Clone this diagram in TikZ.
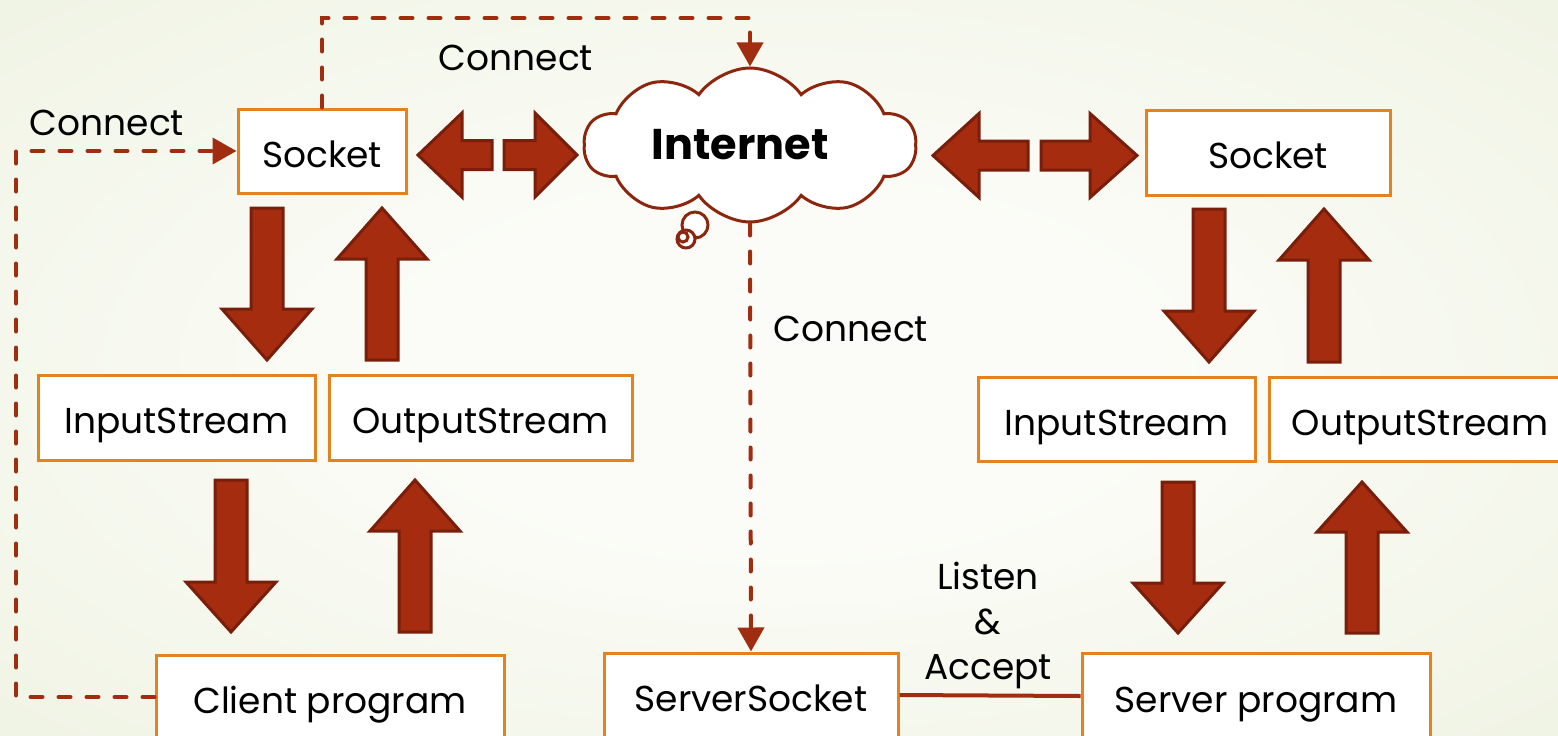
\documentclass[tikz,border=0pt]{standalone}
\usepackage{fontspec}
\setmainfont{Poppins}
\usetikzlibrary{shapes.symbols,arrows.meta}
\definecolor{boxorange}{RGB}{228,130,32}
\definecolor{arrfill}{RGB}{165,44,14}
\definecolor{arrline}{RGB}{120,30,10}
\definecolor{dashred}{RGB}{160,45,15}
\definecolor{cloudline}{RGB}{140,38,14}
\definecolor{bgin}{RGB}{251,252,247}
\definecolor{bgout}{RGB}{227,234,206}
\pgfdeclareradialshading{bgshade}{\pgfpoint{0bp}{0bp}}{color(0bp)=(bgin); color(12bp)=(bgin); color(62bp)=(bgout); color(72bp)=(bgout)}
\newcommand{\varr}[4]{\draw[blockarrow] (#1-16,#2) -- (#1-16,#3) -- (#1-45,#3) -- (#1,#4) -- (#1+45,#3) -- (#1+16,#3) -- (#1+16,#2) -- cycle;}
\newcommand{\harr}[4]{\draw[blockarrow] (#2,#1-14.5) -- (#3,#1-14.5) -- (#3,#1-42) -- (#4,#1) -- (#3,#1+42) -- (#3,#1+14.5) -- (#2,#1+14.5) -- cycle;}
\tikzset{
  box/.style={draw=boxorange, line width=3pt, fill=white, rectangle, inner sep=0pt,
              text height=36pt, text depth=4pt, font=\fontsize{36}{44}\selectfont},
  lbl/.style={font=\fontsize{36}{45}\selectfont, inner sep=0pt},
  dashconn/.style={draw=dashred, line width=4pt, dash pattern=on 12pt off 16pt, line cap=round},
  tipc/.style={-{Triangle[length=24pt,width=26pt]}},
  blockarrow/.style={fill=arrfill, draw=arrline, line width=3pt, line join=miter},
  bubble/.style={draw=cloudline, line width=3pt, fill=white}
}
\begin{document}
\begin{tikzpicture}[x=1pt,y=-1pt]
\useasboundingbox (0,0) rectangle (1558,736);
\clip (0,0) rectangle (1558,736);
\shade[shading=bgshade] (0,0) rectangle (1558,736);

% thought bubbles
\draw[bubble] (695,225) circle (13);
\draw[bubble] (686,239) circle (9);
\draw[bubble] (683,237) circle (5);
% cloud
\node[cloud, cloud puffs=10, cloud puff arc=110, cloud ignores aspect,
      minimum width=332pt, minimum height=154pt,
      draw=cloudline, fill=white, line width=3pt, inner sep=0pt,
      font=\fontsize{43}{52}\selectfont\bfseries] (cloud) at (750,145) {\hspace*{-20pt}Internet};

% boxes
\node[box, minimum width=168pt, minimum height=84pt] (sockL) at (322,151) {Socket};
\node[box, minimum width=277pt, minimum height=85pt] (inL) at (176.5,417.5) {InputStream};
\node[box, minimum width=303pt, minimum height=85pt] (outL) at (480.5,417.5) {OutputStream};
\node[box, minimum width=348pt, minimum height=84pt] (client) at (330,697) {Client program};
\node[box, minimum width=294pt, minimum height=84pt] (ssock) at (751,695) {ServerSocket};
\node[box, minimum width=348pt, minimum height=86pt] (sprog) at (1256,696) {Server program};
\node[box, minimum width=244pt, minimum height=85pt] (sockR) at (1268,152.5) {Socket};
\node[box, minimum width=277pt, minimum height=84pt] (inR) at (1116.5,419) {InputStream};
\node[box, minimum width=302pt, minimum height=84pt] (outR) at (1420,419) {OutputStream};

% block arrows
\harr{155}{492}{462}{418}
\harr{155}{504}{535}{577}
\harr{155.5}{1028}{979}{933}
\harr{155.5}{1041}{1090}{1137}
\varr{267}{208}{309}{360}
\varr{382}{360}{259}{208}
\varr{231}{480}{582}{632}
\varr{415}{632}{531}{480}
\varr{1209}{209}{311}{362}
\varr{1324}{362}{260}{209}
\varr{1178}{482}{583}{633}
\varr{1362}{633}{532}{482}

% connectors
\coordinate (topc) at (750,18);
\coordinate (leftc) at (16,697);
\draw[dashconn, tipc] (sockL.north) |- (topc) -- (cloud.north);
\draw[dashconn, tipc] (client.west) -- (leftc) |- (sockL.west);
\draw[dashconn, tipc] (cloud.south) -- (ssock.north);
\draw[draw=dashred, line width=4pt] (ssock.east) -- (sprog.west);

% labels
\node[lbl] (c1) at (516,58) {Connect};
\node[lbl] (c2) at (107,123) {Connect};
\node[lbl] (c3) at (851,329) {Connect};
\node[lbl, align=center] (la) at (988,625) {Listen\\\&\\Accept};
\end{tikzpicture}
\end{document}
